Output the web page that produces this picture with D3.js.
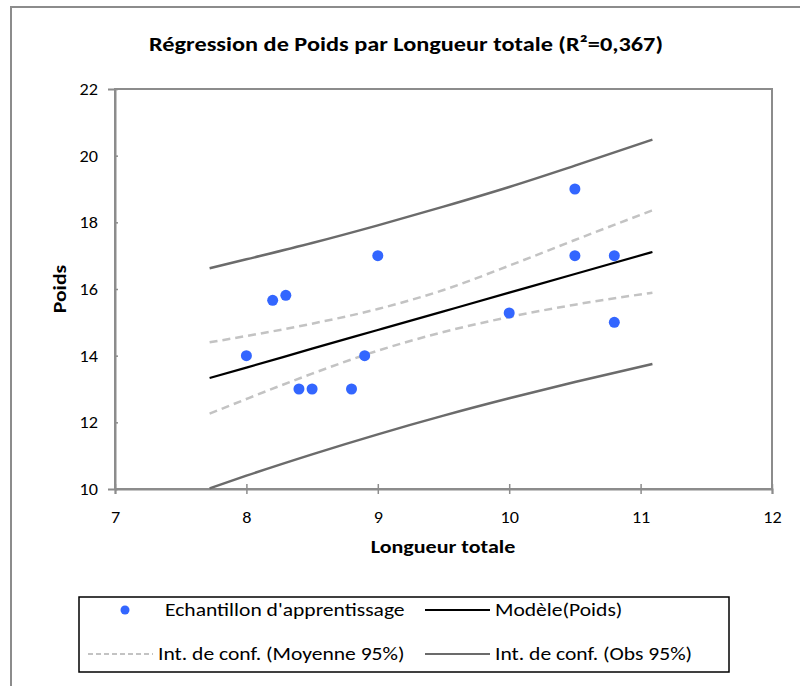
<!DOCTYPE html>
<html>
<head>
<meta charset="utf-8">
<script src="https://cdnjs.cloudflare.com/ajax/libs/d3/7.8.5/d3.min.js"></script>
<style>
  body { margin: 0; background: #fff; }
  svg text { font-family: Carlito, Lato, 'Open Sans', sans-serif; fill: #000; }
</style>
</head>
<body>
<div class="chart"></div>
<script>
// sample points (Longueur totale, Poids)
const sampleX = [8, 8.2, 8.3, 8.4, 8.5, 8.8, 8.9, 9, 10, 10.5, 10.5, 10.8, 10.8];
const sampleY = [14, 15.66, 15.81, 13, 13, 13, 14, 17, 15.28, 19, 17, 17, 15];

// curves
const curveX = [7.72, 8, 8.5, 9, 9.5, 10, 10.5, 11.09];
const model  = [13.33, 13.64, 14.21, 14.77, 15.33, 15.89, 16.45, 17.11];
const meanUp = [14.40, 14.59, 14.96, 15.40, 15.97, 16.70, 17.47, 18.36];
const meanLo = [12.26, 12.70, 13.46, 14.15, 14.71, 15.16, 15.53, 15.89];
const obsUp  = [16.62, 16.89, 17.38, 17.91, 18.47, 19.06, 19.70, 20.48];
const obsLo  = [10.02, 10.40, 11.04, 11.64, 12.20, 12.72, 13.21, 13.75];

const xTicks = [7, 8, 9, 10, 11, 12];
const yTicks = [10, 12, 14, 16, 18, 20, 22];

const WIDTH = 800, HEIGHT = 686;
const MARGINS = {top: 89, right: 28, bottom: 197, left: 115};

const svg = d3.select('.chart').append('svg')
  .attr('width', WIDTH)
  .attr('height', HEIGHT);

// text placed with a slight horizontal stretch, like the original export
function label(x, y, txt, size, sx, bold, anchor, rot) {
  return svg.append('text')
    .attr('transform', 'translate(' + x + ',' + y + ')' + (rot ? ' rotate(' + rot + ')' : '') + ' scale(' + sx + ',1)')
    .attr('text-anchor', anchor || 'start')
    .style('font-size', size + 'px')
    .style('font-weight', bold ? 'bold' : 'normal')
    .text(txt);
}

// outer chart frame (runs off the canvas to the right and bottom)
svg.append('rect')
  .attr('x', 11).attr('y', 7)
  .attr('width', 900).attr('height', 900)
  .attr('fill', 'none')
  .attr('stroke', '#8c8c8c')
  .attr('stroke-width', 2);

const xRange = d3.scaleLinear().domain([7, 12]).range([MARGINS.left, WIDTH - MARGINS.right]);
const yRange = d3.scaleLinear().domain([10, 22]).range([HEIGHT - MARGINS.bottom, MARGINS.top]);

// title
label(406, 51, 'Régression de Poids par Longueur totale (R²=0,367)', 20.5, 1.186, true, 'middle');

// plot frame
svg.append('rect')
  .attr('x', xRange(7)).attr('y', yRange(22))
  .attr('width', xRange(12) - xRange(7))
  .attr('height', yRange(10) - yRange(22))
  .attr('fill', 'none')
  .attr('stroke', '#8c8c8c')
  .attr('stroke-width', 2);

// axes
const tickSX = 1.07;
const xAxis = d3.axisBottom(xRange).tickValues(xTicks).tickFormat(d3.format('d')).tickSize(5).tickPadding(17);
const xAxisg = svg.append('g')
  .attr('transform', 'translate(0,' + yRange(10) + ')')
  .call(xAxis);
xAxisg.select('.domain').attr('stroke', '#8c8c8c').attr('stroke-width', 2);
xAxisg.selectAll('line').attr('stroke', '#8c8c8c').attr('stroke-width', 1.5).attr('y1', -5);
xAxisg.selectAll('text')
  .attr('fill', '#000')
  .attr('transform', 'scale(' + tickSX + ',1)')
  .style('font-size', '17px')
  .style('font-family', 'Carlito, Lato, sans-serif');

const yAxis = d3.axisLeft(yRange).tickValues(yTicks).tickFormat(d3.format('d')).tickSize(7).tickPadding(10);
const yAxisg = svg.append('g')
  .attr('transform', 'translate(' + xRange(7) + ',0)')
  .call(yAxis);
yAxisg.select('.domain').attr('stroke', '#8c8c8c').attr('stroke-width', 2);
yAxisg.selectAll('line').attr('stroke', '#8c8c8c').attr('stroke-width', 1.5).attr('x2', 3);
yAxisg.selectAll('text')
  .attr('fill', '#000')
  .attr('x', -17 / tickSX)
  .attr('transform', 'scale(' + tickSX + ',1)')
  .style('font-size', '17px')
  .style('font-family', 'Carlito, Lato, sans-serif');

// axis titles
label(443, 553, 'Longueur totale', 19, 1.16, true, 'middle');
label(66, 289, 'Poids', 19, 1.14, true, 'middle', -90);

const lineFunction = d3.line()
  .x(function (d) { return xRange(d[0]); })
  .y(function (d) { return yRange(d[1]); })
  .curve(d3.curveMonotoneX);

function series(ys) {
  return curveX.map(function (x, i) { return [x, ys[i]]; });
}

const plot = svg.append('g');
[
  {ys: obsUp, stroke: '#6b6b6b', dash: null, w: 2.5},
  {ys: obsLo, stroke: '#6b6b6b', dash: null, w: 2.5},
  {ys: meanUp, stroke: '#c3c3c3', dash: '8,5', w: 2.5},
  {ys: meanLo, stroke: '#c3c3c3', dash: '8,5', w: 2.5},
  {ys: model, stroke: '#000000', dash: null, w: 2.2}
].forEach(function (s) {
  plot.append('path')
    .attr('d', lineFunction(series(s.ys)))
    .attr('fill', 'none')
    .attr('stroke', s.stroke)
    .attr('stroke-width', s.w)
    .attr('stroke-dasharray', s.dash);
});

plot.selectAll('.pt')
  .data(sampleX.map(function (x, i) { return {x: x, y: sampleY[i]}; }))
  .enter()
  .append('circle')
  .attr('cx', function (d) { return xRange(d.x); })
  .attr('cy', function (d) { return yRange(d.y); })
  .attr('r', 5.5)
  .attr('fill', '#3366ff');

// legend
svg.append('rect')
  .attr('x', 79).attr('y', 597)
  .attr('width', 650).attr('height', 75)
  .attr('fill', '#fff')
  .attr('stroke', '#000')
  .attr('stroke-width', 1.5);

const items = [
  {label: "Echantillon d'apprentissage", kind: 'dot', x: 88, y: 610},
  {label: 'Modèle(Poids)', kind: 'line', stroke: '#000', dash: null, x: 425, y: 610},
  {label: 'Int. de conf. (Moyenne 95%)', kind: 'line', stroke: '#c3c3c3', dash: '5,3', x: 88, y: 654},
  {label: 'Int. de conf. (Obs 95%)', kind: 'line', stroke: '#6b6b6b', dash: null, x: 425, y: 654}
];
items.forEach(function (it) {
  if (it.kind === 'dot') {
    svg.append('circle')
      .attr('cx', 125).attr('cy', it.y)
      .attr('r', 4.5)
      .attr('fill', '#3366ff');
  } else {
    svg.append('line')
      .attr('x1', it.x).attr('x2', it.x + 65)
      .attr('y1', it.y).attr('y2', it.y)
      .attr('stroke', it.stroke)
      .attr('stroke-width', 2)
      .attr('stroke-dasharray', it.dash);
  }
  label(it.kind === 'dot' ? 165 : it.x + 70, it.y + 6, it.label, 19, 1.135, false, 'start');
});
</script>
</body>
</html>
